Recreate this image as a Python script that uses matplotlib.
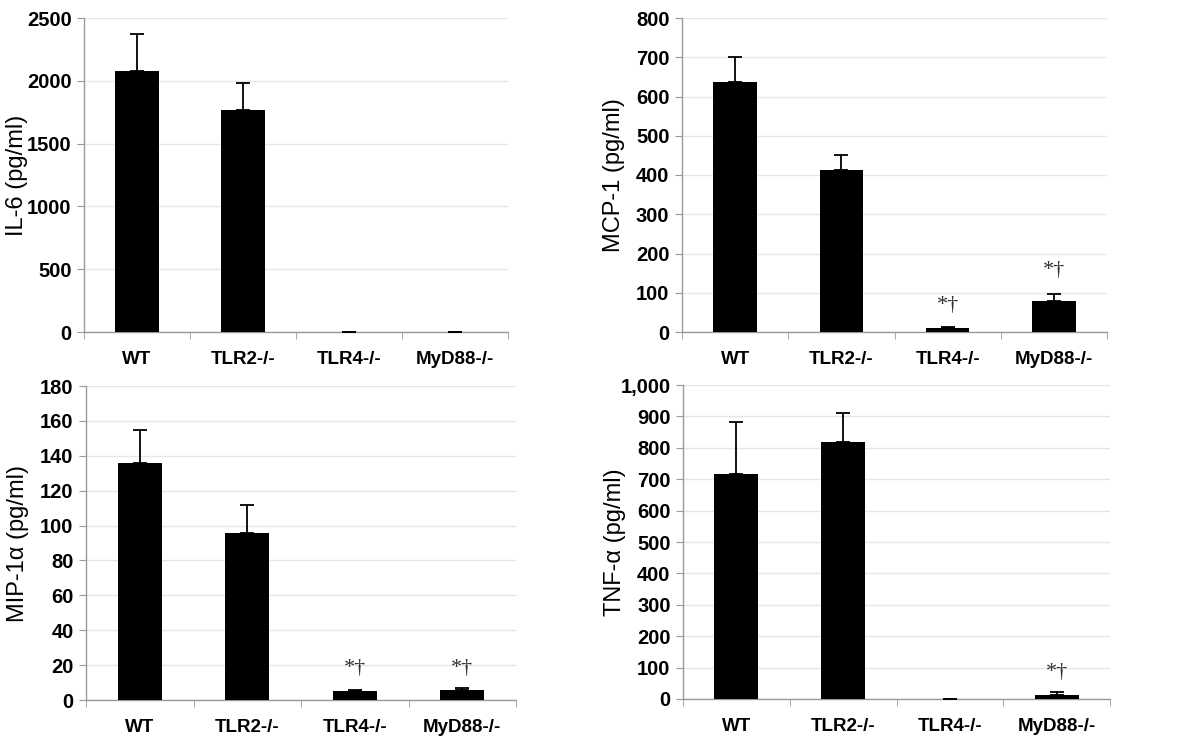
import matplotlib.pyplot as plt
from matplotlib.ticker import FuncFormatter, FixedLocator

plt.rcParams['font.family'] = ['Liberation Sans', 'DejaVu Sans']

groups = ["WT", "TLR2-/-", "TLR4-/-", "MyD88-/-"]

il6 = [2080, 1765, 2, 2]
il6_err = [295, 220, 0, 0]

mcp1 = [638, 412, 10, 80]
mcp1_err = [62, 38, 3, 16]

mip1a = [136, 96, 5.2, 5.8]
mip1a_err = [19, 16, 0.6, 1.0]

tnfa = [717, 818, 1, 12]
tnfa_err = [166, 94, 0, 10]

# significance marks: (group index, y position of mark)
mcp1_marks = [(2, 68), (3, 156)]
mip1a_marks = [(2, 18), (3, 18)]
tnfa_marks = [(3, 84)]

W, H = 1200, 747


def px_axes(fig, left, right, top, bottom):
    return fig.add_axes([left / W, 1 - bottom / H, (right - left) / W, (bottom - top) / H])


def panel(ax, vals, errs, ylabel, ymax, ystep, marks=(), comma=False):
    x = range(len(groups))
    ax.bar(x, vals, width=0.41, color="black", zorder=3)
    ax.errorbar(x, vals, yerr=[[0] * len(errs), errs], fmt="none", ecolor="black",
                elinewidth=1.3, capsize=5, capthick=1.3, zorder=4)
    ax.set_xlim(-0.5, len(groups) - 0.5)
    ax.set_ylim(0, ymax)
    ax.set_yticks([i * ystep for i in range(int(round(ymax / ystep)) + 1)])
    if comma:
        ax.yaxis.set_major_formatter(FuncFormatter(lambda v, p: f"{int(v):,}"))
    ax.grid(axis="y", color="#e6e6e6", linewidth=1, zorder=0)
    ax.set_xticks(list(x))
    ax.set_xticklabels(groups, fontweight="bold", fontsize=13.5)
    ax.tick_params(axis="x", length=0, pad=14)
    ax.xaxis.set_minor_locator(FixedLocator([i - 0.5 for i in range(len(groups) + 1)]))
    ax.tick_params(axis="x", which="minor", length=5, color="#999999", direction="out")
    ax.tick_params(axis="y", length=5, color="#999999", labelsize=14.5, pad=4)
    for lab in ax.get_yticklabels():
        lab.set_fontweight("bold")
    for s in ("top", "right"):
        ax.spines[s].set_visible(False)
    for s in ("left", "bottom"):
        ax.spines[s].set_color("#999999")
        ax.spines[s].set_linewidth(1)
    ax.set_ylabel(ylabel, fontsize=17)
    ax.yaxis.set_label_coords(-0.133, 0.5)
    for i, y in marks:
        ax.text(i, y, "*†", ha="center", va="center", fontsize=16,
                family=["Liberation Serif", "DejaVu Serif"], color="#333333")


fig = plt.figure(figsize=(12, 7.47), dpi=100)

ax1 = px_axes(fig, 84, 508, 18, 332)
panel(ax1, il6, il6_err, "IL-6 (pg/ml)", 2500, 500)

ax2 = px_axes(fig, 682, 1107, 18, 332)
panel(ax2, mcp1, mcp1_err, "MCP-1 (pg/ml)", 800, 100, mcp1_marks)

ax3 = px_axes(fig, 86, 516, 386, 700)
panel(ax3, mip1a, mip1a_err, "MIP-1α (pg/ml)", 180, 20, mip1a_marks)

ax4 = px_axes(fig, 683, 1110, 385, 699)
panel(ax4, tnfa, tnfa_err, "TNF-α (pg/ml)", 1000, 100, tnfa_marks, comma=True)

fig.savefig("out.png", dpi=100)
